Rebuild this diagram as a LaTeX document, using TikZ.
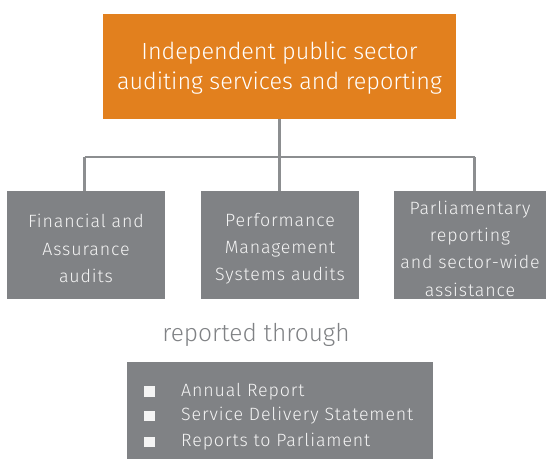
\documentclass[tikz,border=0pt]{standalone}
\usepackage{fontspec}
\setmainfont{Fira Sans Light}
\newfontfamily\tracked{Fira Sans Light}[LetterSpace=5]
\definecolor{brandorange}{HTML}{E2801E}
\definecolor{slate}{HTML}{808285}
\definecolor{linkgrey}{HTML}{8C8E90}
\definecolor{paper}{HTML}{F4F4F4}
\begin{document}
\begin{tikzpicture}[x=1pt,y=-1pt,
  headbox/.style={fill=brandorange, minimum width=353pt, minimum height=105pt, inner sep=0pt},
  headtext/.style={text=white, align=center, inner sep=0pt, yshift=-2pt,
    font=\fontsize{23.4}{30}\selectfont},
  unitbox/.style={fill=slate, minimum height=108pt, inner sep=0pt},
  unittext/.style={text=paper, align=center, inner sep=0pt, yshift=-3.5pt,
    font=\tracked\fontsize{17.8}{27.3}\selectfont},
  listbox/.style={fill=slate, minimum width=306pt, minimum height=97pt, inner sep=0pt},
  listitem/.style={anchor=west, text=paper, inner sep=0pt,
    font=\tracked\fontsize{17.8}{20}\selectfont},
  bulletsq/.style={fill=paper, minimum size=10.5pt, inner sep=0pt},
  link/.style={draw=linkgrey, line width=2.6pt}
]
\useasboundingbox (0,0) rectangle (547,459);

% heading box
\node[headbox, label={[headtext]center:{Independent public sector\\auditing services and reporting}}]
  (head) at (279.5,66.5) {};

% three service units
\node[unitbox, minimum width=158pt, label={[unittext]center:{Financial and\\Assurance\\audits}}]
  (fin) at (86,245) {};
\node[unitbox, minimum width=158pt, label={[unittext]center:{Performance\\Management\\Systems audits}}]
  (perf) at (280,245) {};
\node[unitbox, minimum width=152pt, label={[unittext]center:{Parliamentary\\reporting\\and sector-wide\\assistance}}]
  (parl) at (470,245) {};

% tree connectors
\coordinate (hub) at (279.5,157);
\coordinate (hubL) at (84.5,157);
\coordinate (hubR) at (474.5,157);
\draw[link] (head.south) -- (hub);
\draw[link] (hubL) -- (hubR);
\draw[link] (hubL) -- (hubL |- fin.north);
\draw[link] (hub) -- (hub |- perf.north);
\draw[link] (hubR) -- (hubR |- parl.north);

% reporting channels
\node[text=slate, font=\fontsize{24.5}{28}\selectfont] (via) at (256,335) {reported through};
\node[listbox] (list) at (280,410.5) {};
\node[bulletsq] (b1) at (149.5,391.5) {};
\node[bulletsq] (b2) at (149.5,416) {};
\node[bulletsq] (b3) at (149.5,442) {};
\node[listitem] (l1) at (181,391.5) {Annual Report};
\node[listitem] (l2) at (181,416) {Service Delivery Statement};
\node[listitem] (l3) at (181,442) {Reports to Parliament};
\end{tikzpicture}
\end{document}
